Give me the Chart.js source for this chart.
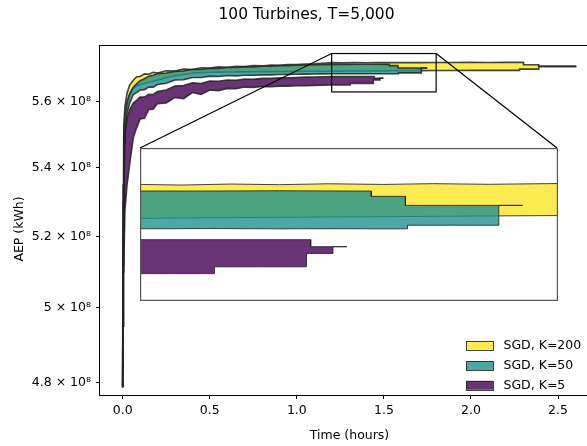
<!DOCTYPE html>
<html>
<head>
<meta charset="utf-8">
<script src="https://cdn.jsdelivr.net/npm/chart.js@4.4.1/dist/chart.umd.min.js"></script>
<style>
  html, body { margin: 0; padding: 0; background: #fff; overflow: hidden; }
  #wrap { position: relative; width: 613px; height: 446px; }
  #main { position: absolute; left: 0; top: 0; }
  #inset { position: absolute; left: 140px; top: 148px; }
</style>
</head>
<body>
<div id="wrap">
  <canvas id="main" width="613" height="446"></canvas>
  <canvas id="inset" width="418" height="153"></canvas>
</div>
<script>
// time in hours, AEP in units of 1e8 kWh
const earlyTime = [0, 0.002, 0.006, 0.013, 0.025, 0.04, 0.061, 0.08, 0.1, 0.125, 0.15, 0.175, 0.2,
                   0.25, 0.3, 0.35, 0.4, 0.45, 0.5, 0.55, 0.6, 0.65, 0.7, 0.75, 0.8, 0.85, 0.9, 0.95,
                   1.0, 1.05, 1.1, 1.15, 1.2];

// K=200
const k200TailTime = [1.26, 1.33, 1.4, 1.47, 1.55, 1.62, 1.7, 1.8, 1.9, 2.0, 2.1, 2.2,
                      2.279, 2.279, 2.302, 2.302, 2.389, 2.389, 2.605];
const k200Upper = [4.787, 5.35, 5.52, 5.585, 5.626, 5.651, 5.666, 5.677, 5.678, 5.686, 5.685, 5.691, 5.689,
                   5.696, 5.695, 5.701, 5.700, 5.705, 5.704, 5.708, 5.707, 5.710, 5.709, 5.712, 5.711, 5.714, 5.713,
                   5.715, 5.7155, 5.717, 5.7175, 5.7195, 5.7212,
                   5.7207, 5.7215, 5.7210, 5.7217, 5.7212, 5.7218, 5.7213, 5.7219, 5.7216, 5.7220, 5.7218, 5.7221,
                   5.7221, 5.7221, 5.7221, 5.7149, 5.7149, 5.7095, 5.7095];
const k200Lower = [4.787, 5.20, 5.42, 5.52, 5.585, 5.62, 5.64, 5.648, 5.652, 5.656, 5.659, 5.663, 5.667,
                   5.674, 5.680, 5.684, 5.688, 5.690, 5.691, 5.6915, 5.692, 5.6922, 5.6925, 5.6928, 5.693, 5.6932, 5.6935,
                   5.6937, 5.694, 5.6941, 5.6942, 5.6944, 5.6945,
                   5.6948, 5.6951, 5.6953, 5.6956, 5.6958, 5.6961, 5.6964, 5.6967, 5.6968, 5.6969, 5.6970, 5.6970,
                   5.6970, 5.7010, 5.7010, 5.7010, 5.7010, 5.7095, 5.7095];

// K=50
const k50TailTime = [1.3, 1.4, 1.5, 1.532, 1.532, 1.581, 1.581, 1.584, 1.584, 1.65, 1.715, 1.715, 1.749];
const k50Upper = [4.787, 5.30, 5.49, 5.56, 5.60, 5.625, 5.645, 5.655, 5.665, 5.671, 5.679, 5.682, 5.687,
                  5.689, 5.694, 5.695, 5.700, 5.700, 5.703, 5.703, 5.706, 5.706, 5.708, 5.708, 5.710, 5.710, 5.712,
                  5.712, 5.713, 5.714, 5.7145, 5.7152, 5.716,
                  5.716, 5.7162, 5.716, 5.716, 5.7118, 5.7118, 5.7047, 5.7047, 5.7047, 5.7047, 5.7047, 5.7047, 5.7047];
const k50Lower = [4.787, 5.12, 5.40, 5.50, 5.565, 5.595, 5.622, 5.628, 5.636, 5.637, 5.645, 5.645, 5.653,
                  5.657, 5.667, 5.668, 5.675, 5.675, 5.679, 5.678, 5.681, 5.680, 5.682, 5.682, 5.683, 5.683, 5.684,
                  5.684, 5.685, 5.6853, 5.6857, 5.686, 5.6863,
                  5.6865, 5.6863, 5.6864, 5.6863, 5.6863, 5.6863, 5.6863, 5.6863, 5.6891, 5.6891, 5.6891, 5.7047, 5.7047];

// K=5
const k5TailTime = [1.25, 1.307, 1.307, 1.37, 1.439, 1.439, 1.445, 1.445, 1.477, 1.477, 1.497];
const k5Upper = [4.787, 5.10, 5.28, 5.50, 5.55, 5.575, 5.596, 5.604, 5.614, 5.614, 5.623, 5.622, 5.631,
                 5.636, 5.648, 5.650, 5.658, 5.656, 5.664, 5.663, 5.667, 5.666, 5.670, 5.669, 5.672, 5.672, 5.674,
                 5.674, 5.675, 5.676, 5.6765, 5.677, 5.6778,
                 5.6778, 5.6778, 5.6778, 5.6778, 5.6778, 5.6778, 5.6778, 5.6723, 5.6723, 5.6723, 5.6723];
const k5Lower = [4.787, 4.95, 5.12, 5.275, 5.35, 5.41, 5.49, 5.52, 5.547, 5.549, 5.576, 5.577, 5.594,
                 5.596, 5.613, 5.609, 5.628, 5.622, 5.636, 5.634, 5.641, 5.640, 5.645, 5.644, 5.647, 5.646, 5.648,
                 5.648, 5.649, 5.6495, 5.650, 5.6505, 5.6513,
                 5.6513, 5.6513, 5.6566, 5.6566, 5.6566, 5.667, 5.667, 5.667, 5.667, 5.6723, 5.6723];

const seriesLabels = ['SGD, K=200', 'SGD, K=50', 'SGD, K=5'];
const seriesColors = ['rgba(253,231,37,0.8)', 'rgba(33,145,140,0.8)', 'rgba(68,1,84,0.8)'];
const edgeColor = 'rgba(35,35,35,0.85)';

const xTicks = [0, 0.5, 1.0, 1.5, 2.0, 2.5];
const yTicks = [4.8e8, 5.0e8, 5.2e8, 5.4e8, 5.6e8];
const xRange = [-0.13025, 2.73525];
const yRange = [4.7667e8, 5.777e8];
const zoomX = [1.2, 1.8];
const zoomY = [5.63e8, 5.75e8];
const chartTitle = '100 Turbines, T=5,000';

Chart.defaults.font.family = '"DejaVu Sans", sans-serif';
Chart.defaults.font.size = 12.5;
Chart.defaults.color = '#000';

function bandDatasets(lineWidth) {
  const series = [
    { time: earlyTime.concat(k200TailTime), upper: k200Upper, lower: k200Lower },
    { time: earlyTime.concat(k50TailTime), upper: k50Upper, lower: k50Lower },
    { time: earlyTime.concat(k5TailTime), upper: k5Upper, lower: k5Lower }
  ];
  const out = [];
  series.forEach((s, i) => {
    const pts = arr => s.time.map((t, j) => ({ x: t, y: arr[j] * 1e8 }));
    // lower edge carries the fill, drawn first; upper edge drawn on top
    out.push({
      label: seriesLabels[i], data: pts(s.lower), fill: '+1',
      backgroundColor: seriesColors[i], borderColor: edgeColor, borderWidth: lineWidth,
      pointRadius: 0, tension: 0, order: 10 - 2 * i
    });
    out.push({
      label: seriesLabels[i], data: pts(s.upper), fill: false,
      borderColor: edgeColor, borderWidth: lineWidth,
      pointRadius: 0, tension: 0, order: 9 - 2 * i
    });
  });
  return out;
}

const insetEl = document.getElementById('inset');

const decorPlugin = {
  id: 'decor',
  afterDraw(chart) {
    const { ctx, chartArea: a, scales: { x, y } } = chart;
    ctx.save();
    // spines
    ctx.strokeStyle = '#000';
    ctx.lineWidth = 1;
    ctx.strokeRect(Math.round(a.left) - 0.5, Math.round(a.top) + 0.5,
                   Math.round(a.right - a.left), Math.round(a.bottom - a.top));

    // zoomed region and connectors
    const x1 = x.getPixelForValue(zoomX[0]), x2 = x.getPixelForValue(zoomX[1]);
    const y1 = y.getPixelForValue(zoomY[1]), y2 = y.getPixelForValue(zoomY[0]);
    ctx.lineWidth = 1.2;
    ctx.strokeRect(x1, y1, x2 - x1, y2 - y1);
    const il = insetEl.offsetLeft, it = insetEl.offsetTop, ir = il + insetEl.width - 1;
    ctx.beginPath();
    ctx.moveTo(x1, y1); ctx.lineTo(il, it);
    ctx.moveTo(x2, y1); ctx.lineTo(ir, it);
    ctx.stroke();

    // title
    ctx.fillStyle = '#000';
    ctx.textAlign = 'center';
    ctx.textBaseline = 'middle';
    ctx.font = '15.5px "DejaVu Sans", sans-serif';
    ctx.fillText(chartTitle, chart.width / 2, 15);

    // y label
    ctx.font = '12.5px "DejaVu Sans", sans-serif';
    ctx.save();
    ctx.translate(20, (a.top + a.bottom) / 2 + 9);
    ctx.rotate(-Math.PI / 2);
    ctx.fillText('AEP (kWh)', 0, 0);
    ctx.restore();

    // legend, lower right inside the axes
    const boxLeft = a.right - 133, boxW = 27, boxH = 9;
    ctx.textAlign = 'left';
    seriesLabels.forEach((lab, i) => {
      const cy = a.bottom - 49.3 + i * 19.8;
      ctx.fillStyle = seriesColors[i];
      ctx.fillRect(boxLeft, cy - boxH / 2, boxW, boxH);
      ctx.strokeStyle = edgeColor;
      ctx.lineWidth = 1;
      ctx.strokeRect(boxLeft + 0.5, Math.round(cy - boxH / 2) + 0.5, boxW, boxH);
      ctx.fillStyle = '#000';
      ctx.fillText(lab, boxLeft + 37.5, cy + 0.5);
    });
    ctx.restore();
  }
};

new Chart(document.getElementById('main'), {
  type: 'line',
  data: { datasets: bandDatasets(1.6) },
  options: {
    responsive: false,
    animation: false,
    events: [],
    layout: { padding: { top: 45, right: 14, left: 0, bottom: 0 } },
    plugins: { legend: { display: false }, tooltip: { enabled: false } },
    scales: {
      x: {
        type: 'linear', min: xRange[0], max: xRange[1],
        afterBuildTicks: s => { s.ticks = xTicks.map(v => ({ value: v })); },
        afterFit: s => { s.height = 51; },
        ticks: { autoSkip: false, maxRotation: 0, padding: 4, callback: v => v.toFixed(1) },
        grid: { display: true, drawOnChartArea: false, drawTicks: true, tickLength: 4, tickColor: '#000' },
        border: { display: false },
        title: { display: true, text: 'Time (hours)', padding: { top: 4, bottom: 2.5 } }
      },
      y: {
        type: 'logarithmic', min: yRange[0], max: yRange[1],
        afterBuildTicks: s => { s.ticks = yTicks.map(v => ({ value: v })); },
        afterFit: s => { s.width = 100; },
        ticks: { autoSkip: false, padding: 5, callback: v => String(+(v / 1e8).toFixed(1)) + ' \u00d7 10\u2078' },
        grid: { display: true, drawOnChartArea: false, drawTicks: true, tickLength: 4, tickColor: '#000' },
        border: { display: false }
      }
    }
  },
  plugins: [decorPlugin]
});

const insetFrame = {
  id: 'insetFrame',
  beforeDraw(chart) {
    const { ctx } = chart;
    ctx.save();
    ctx.fillStyle = '#fff';
    ctx.fillRect(0, 0, chart.width, chart.height);
    ctx.restore();
  },
  afterDraw(chart) {
    const { ctx } = chart;
    ctx.save();
    ctx.strokeStyle = '#555';
    ctx.lineWidth = 1.2;
    ctx.strokeRect(0.6, 0.6, chart.width - 1.2, chart.height - 1.2);
    ctx.restore();
  }
};

new Chart(insetEl, {
  type: 'line',
  data: { datasets: bandDatasets(1) },
  options: {
    responsive: false,
    animation: false,
    events: [],
    layout: { padding: 0 },
    plugins: { legend: { display: false }, tooltip: { enabled: false } },
    scales: {
      x: { type: 'linear', display: false, min: zoomX[0], max: zoomX[1] },
      y: { type: 'logarithmic', display: false, min: zoomY[0], max: zoomY[1] }
    }
  },
  plugins: [insetFrame]
});
</script>
</body>
</html>
